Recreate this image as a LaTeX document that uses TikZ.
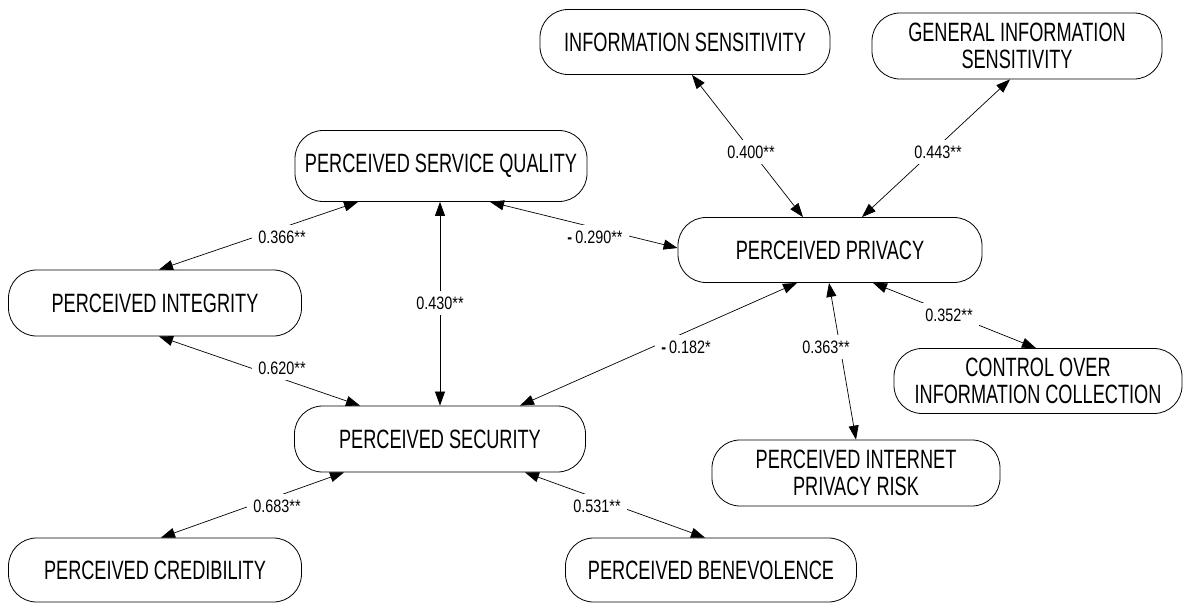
\documentclass[tikz,border=0pt]{standalone}
\usepackage{fontspec}
\setmainfont{Liberation Sans}
\newfontfamily\nodefont[FakeStretch=0.685]{Liberation Sans}
\newfontfamily\lblfont[FakeStretch=0.8]{Liberation Sans}
\usetikzlibrary{arrows.meta}
\tikzset{
  box/.style={draw=black, line width=0.8pt, rounded corners=28pt, align=center,
    inner sep=0pt, font=\nodefont\fontsize{26.5}{27}\selectfont},
  arr/.style={>={Triangle[length=14pt,width=10pt]}, <->, line width=0.7pt},
  lbl/.style={fill=white, inner sep=6pt, font=\lblfont\fontsize{18}{18}\selectfont},
}
\begin{document}
\begin{tikzpicture}[x=1pt,y=-1pt]
\useasboundingbox (0,0) rectangle (1184,603);
% nodes
\node[box, minimum width=292pt, minimum height=71pt] (sq) at (441,166) {PERCEIVED SERVICE QUALITY};
\node[box, minimum width=293pt, minimum height=66pt] (integ) at (155,303) {PERCEIVED INTEGRITY};
\node[box, minimum width=291pt, minimum height=66pt] (sec) at (440,439) {PERCEIVED SECURITY};
\node[box, minimum width=293pt, minimum height=64pt] (cred) at (155,570) {PERCEIVED CREDIBILITY};
\node[box, minimum width=291pt, minimum height=64pt] (ben) at (711,570) {PERCEIVED BENEVOLENCE};
\node[box, minimum width=304pt, minimum height=65pt] (priv) at (830,250) {PERCEIVED PRIVACY};
\node[box, minimum width=290pt, minimum height=65pt] (infos) at (685,42) {INFORMATION SENSITIVITY};
\node[box, minimum width=290pt, minimum height=66pt] (gen) at (1017,46) {GENERAL INFORMATION\\SENSITIVITY};
\node[box, minimum width=288pt, minimum height=65pt] (ctrl) at (1038,381) {CONTROL OVER\\INFORMATION COLLECTION};
\node[box, minimum width=288pt, minimum height=66pt] (risk) at (856,473) {PERCEIVED INTERNET\\PRIVACY RISK};
% connectors
\draw[arr] ([xshift=-83pt]sq.south) -- ([xshift=4pt]integ.north);
\draw[arr] ([xshift=4pt]integ.south) -- ([xshift=-80pt]sec.north);
\draw[arr] ([xshift=-1pt]sq.south) -- (sec.north);
\draw[arr] ([xshift=49pt]sq.south) -- ([yshift=2pt]priv.west);
\draw[arr] ([xshift=80pt]sec.north) -- ([xshift=-33pt]priv.south);
\draw[arr] ([xshift=7pt]infos.south) -- ([xshift=-27pt]priv.north);
\draw[arr] ([xshift=-7pt]gen.south) -- ([xshift=32pt]priv.north);
\draw[arr] ([xshift=43pt]priv.south) -- ([xshift=-2pt]ctrl.north);
\draw[arr] ([xshift=-1pt]priv.south) -- (risk.north);
\draw[arr] ([xshift=-96pt]sec.south) -- ([xshift=6pt]cred.north);
\draw[arr] ([xshift=85pt]sec.south) -- ([xshift=-6pt]ben.north);
% labels
\node[lbl] (l1) at (282,237) {0.366**};
\node[lbl] (l2) at (282,368) {0.620**};
\node[lbl] (l3) at (440,303) {0.430**};
\node[lbl] (l4) at (595,237) {{\bfseries -}\,0.290**};
\node[lbl] (l5) at (686,347) {{\bfseries -}\,0.182*};
\node[lbl] (l6) at (751,152) {0.400**};
\node[lbl] (l7) at (938,152) {0.443**};
\node[lbl] (l8) at (949,315) {0.352**};
\node[lbl] (l9) at (826,347) {0.363**};
\node[lbl] (l10) at (277,506) {0.683**};
\node[lbl] (l11) at (597,506) {0.531**};
\end{tikzpicture}
\end{document}
